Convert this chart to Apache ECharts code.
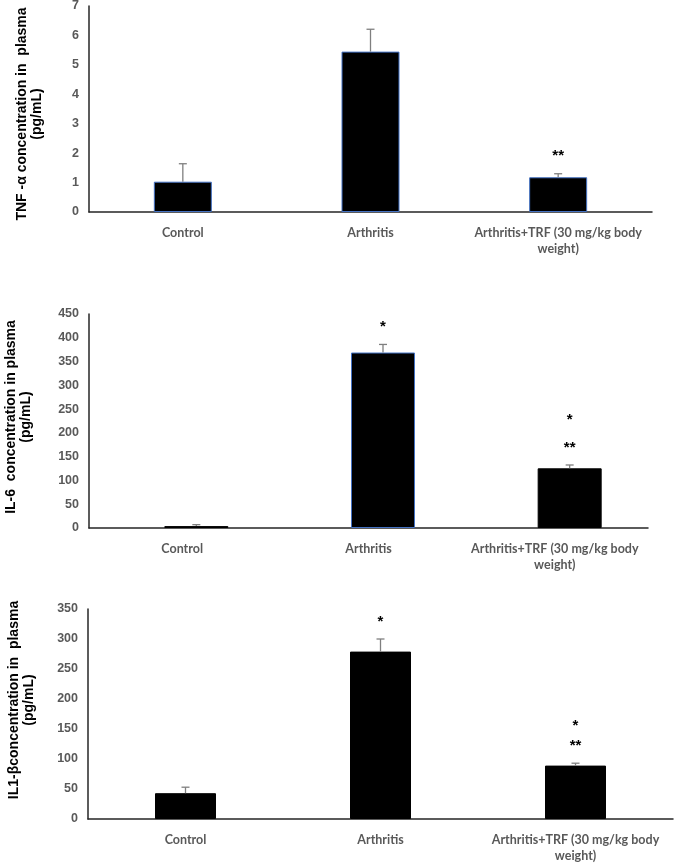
<!DOCTYPE html>
<html><head><meta charset="utf-8">
<script src="https://cdn.jsdelivr.net/npm/echarts@6/dist/echarts.min.js"></script>
<style>html,body{margin:0;padding:0;background:#fff}#c{width:685px;height:864px}</style>
</head><body><div id="c"></div>
<script>
// ---- data ----
const categories = ['Control', 'Arthritis', 'Arthritis+TRF (30 mg/kg body weight)'];

const tnfValues = [1.03, 5.45, 1.18];
const tnfErrors = [0.61, 0.76, 0.12];
const tnfSigNear = ['', '', '**'];
const tnfSigFar = ['', '', ''];
const tnfAxis = { min: 0, max: 7, interval: 1 };

const il6Values = [4, 369, 125.5];
const il6Errors = [3, 17, 7];
const il6SigNear = ['', '*', '**'];
const il6SigFar = ['', '', '*'];
const il6Axis = { min: 0, max: 450, interval: 50 };

const il1bValues = [43, 279, 89];
const il1bErrors = [10, 21, 4];
const il1bSigNear = ['', '*', '**'];
const il1bSigFar = ['', '', '*'];
const il1bAxis = { min: 0, max: 350, interval: 50 };

// ---- layout / styles ----
const panels = [
  { title: 'TNF -α concentration in  plasma\n(pg/mL)', values: tnfValues, errors: tnfErrors,
    near: tnfSigNear, far: tnfSigFar, axis: tnfAxis,
    axisGrid: { left: 89, width: 563, top: 6, height: 206 },
    barGrid: { left: 89, width: 563, top: 6, height: 206 },
    barWidth: 58, nameGap: 44, namePadding: [0, 10, 0, 0], farGap: 44,
    borders: ['#4472C4', '#4472C4', '#4472C4'] },
  { title: 'IL-6  concentration in plasma\n(pg/mL)', values: il6Values, errors: il6Errors,
    near: il6SigNear, far: il6SigFar, axis: il6Axis,
    axisGrid: { left: 89, width: 559, top: 314, height: 214 },
    barGrid: { left: 103, width: 560, top: 314, height: 214 },
    barWidth: 64, nameGap: 55, namePadding: [0, 0, 0, 8], farGap: 50,
    borders: ['#000', '#4472C4', '#000'] },
  { title: 'IL1-βconcentration in  plasma\n(pg/mL)', values: il1bValues, errors: il1bErrors,
    near: il1bSigNear, far: il1bSigFar, axis: il1bAxis,
    axisGrid: { left: 88, width: 585, top: 609, height: 210 },
    barGrid: { left: 88, width: 585, top: 609, height: 210 },
    barWidth: 61, nameGap: 51, namePadding: [0, 0, 0, 28], farGap: 42,
    borders: ['#000', '#000', '#000'] }
];

const grid = [], xAxis = [], yAxis = [], series = [];
const axisLineStyle = { color: '#262626', width: 1.5 };

panels.forEach((p) => {
  const gA = grid.length;
  grid.push(Object.assign({ containLabel: false, outerBoundsMode: 'none' }, p.axisGrid));
  xAxis.push({
    type: 'category', gridIndex: gA, data: categories,
    axisLine: { show: true, lineStyle: axisLineStyle }, axisTick: { show: false },
    axisLabel: {
      margin: 13, interval: 0, color: '#595959', fontFamily: 'Lato', fontWeight: 'bold',
      fontSize: 12.5, lineHeight: 16,
      formatter: (v) => v.replace(' body weight)', ' body\nweight)')
    }
  });
  yAxis.push({
    type: 'value', gridIndex: gA, min: p.axis.min, max: p.axis.max, interval: p.axis.interval,
    axisLine: { show: true, lineStyle: axisLineStyle }, axisTick: { show: false },
    splitLine: { show: false },
    axisLabel: { margin: 10, color: '#595959', fontFamily: 'Liberation Sans', fontWeight: 'bold', fontSize: 12.5 },
    name: p.title, nameLocation: 'middle', nameRotate: 90, nameGap: p.nameGap,
    nameTextStyle: { fontFamily: 'Liberation Sans', fontWeight: 'bold', fontSize: 14, color: '#000',
      lineHeight: 15, padding: p.namePadding }
  });
  let xi = xAxis.length - 1, yi = yAxis.length - 1;
  const sameGrid = JSON.stringify(p.axisGrid) === JSON.stringify(p.barGrid);
  if (!sameGrid) {
    const gB = grid.length;
    grid.push(Object.assign({ containLabel: false, outerBoundsMode: 'none' }, p.barGrid));
    xAxis.push({ type: 'category', gridIndex: gB, data: categories, show: false });
    yAxis.push({ type: 'value', gridIndex: gB, min: p.axis.min, max: p.axis.max, interval: p.axis.interval, show: false });
    xi = xAxis.length - 1; yi = yAxis.length - 1;
  }
  series.push({
    type: 'bar', xAxisIndex: xi, yAxisIndex: yi, barWidth: p.barWidth,
    data: p.values.map((v, i) => ({ value: v, itemStyle: { color: '#000', borderColor: p.borders[i], borderWidth: 1 } })),
    silent: true
  });
  series.push({
    type: 'custom', xAxisIndex: xi, yAxisIndex: yi, z: 5, silent: true,
    data: p.values.map((v, i) => [i, v, p.errors[i]]),
    renderItem: (params, api) => {
      const i = api.value(0);
      const top = api.coord([i, api.value(1) + api.value(2)]);
      const base = api.coord([i, api.value(1)]);
      const st = { stroke: '#7f7f7f', lineWidth: 1.3 };
      const nearTxt = p.near[i], farTxt = p.far[i];
      const children = [
        { type: 'line', shape: { x1: top[0], y1: top[1], x2: base[0], y2: base[1] }, style: st },
        { type: 'line', shape: { x1: top[0] - 4, y1: top[1], x2: top[0] + 4, y2: top[1] }, style: st }
      ];
      if (nearTxt) children.push({ type: 'text', x: top[0], y: top[1] - 10,
        style: { text: nearTxt, fill: '#000', font: 'bold 15px "Liberation Sans"', align: 'center', verticalAlign: 'bottom' } });
      if (farTxt) children.push({ type: 'text', x: top[0], y: top[1] - 10 - p.farGap + 22,
        style: { text: farTxt, fill: '#000', font: 'bold 15px "Liberation Sans"', align: 'center', verticalAlign: 'bottom' } });
      return { type: 'group', children };
    }
  });
});

const chart = echarts.init(document.getElementById('c'), null, { renderer: 'canvas' });
chart.setOption({ animation: false, backgroundColor: '#fff', grid, xAxis, yAxis, series });
</script>
</body></html>
